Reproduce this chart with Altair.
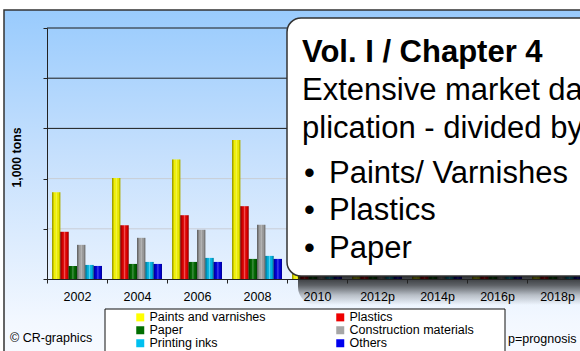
import altair as alt
import pandas as pd

years = ["2002", "2004", "2006", "2008", "2010", "2012p", "2014p", "2016p", "2018p"]
series = ["Paints and varnishes", "Plastics", "Paper", "Construction materials", "Printing inks", "Others"]
colors = ["#ffff00", "#ee0000", "#006e00", "#a6a6a6", "#00c0f0", "#0000ee"]

paints = [865, 1005, 1190, 1385, 1400, 1560, 1700, 1840, 1990]
plastics = [470, 535, 635, 725, 740, 820, 900, 980, 1060]
paper = [130, 150, 170, 200, 200, 220, 240, 255, 270]
construction = [340, 410, 490, 540, 550, 600, 650, 700, 750]
inks = [140, 170, 210, 230, 235, 255, 275, 295, 315]
others = [130, 150, 170, 200, 205, 225, 245, 265, 285]
grid_values = [500, 1000, 1500, 2000, 2500]

callout_title = "Vol. I / Chapter 4"
callout_lines = ["Extensive market data on ap-", "plication - divided by segments:"]
callout_bullets = ["Paints/ Varnishes", "Plastics", "Paper"]
FONT = "Liberation Sans"

rows = []
for s, vals in zip(series, [paints, plastics, paper, construction, inks, others]):
    for y, v in zip(years, vals):
        rows.append({"year": y, "series": s, "value": v})
df = pd.DataFrame(rows)
one = pd.DataFrame({"a": [0]})

x_enc = alt.X("year:N", sort=years,
              scale=alt.Scale(range=[0, 540], paddingInner=0, paddingOuter=0),
              axis=alt.Axis(title=None, tickBand="extent", labelFont=FONT, labelFontSize=12.5,
                            labelColor="black", labelAngle=0, tickColor="#222", tickSize=4,
                            domainColor="#222", labelPadding=7, zindex=1))
xo_enc = alt.XOffset("series:N", sort=series, scale=alt.Scale(paddingOuter=0.6, paddingInner=0))
y_enc = alt.Y("value:Q", scale=alt.Scale(domain=[0, 2500], nice=False),
              axis=alt.Axis(title="1,000 tons", values=grid_values + [0], labels=False, grid=False,
                            titleFont=FONT, titleFontSize=12.3, titleFontWeight="bold",
                            titleColor="black", titleX=-31, titleY=129, titleBaseline="middle",
                            titleAlign="center", titleAngle=270,
                            tickColor="#222", tickSize=4, domainColor="#222", zindex=1))

frame = alt.Chart(one).mark_rect(
    fill=alt.Gradient(gradient="linear", x1=0, x2=0, y1=0, y2=1,
                      stops=[alt.GradientStop(offset=0, color="#99cbfd"),
                             alt.GradientStop(offset=0.35, color="#c6e0fd"),
                             alt.GradientStop(offset=0.75, color="#f3f8ff"),
                             alt.GradientStop(offset=1, color="#ffffff")]),
    stroke="#333", strokeWidth=1.5
).encode(x=alt.value(-43), x2=alt.value(640), y=alt.value(-18), y2=alt.value(400))

legend_box = alt.Chart(one).mark_rect(fill="white", stroke="#111", strokeWidth=1).encode(
    x=alt.value(58), x2=alt.value(458), y=alt.value(281), y2=alt.value(400))

grid = alt.Chart(pd.DataFrame({"g": grid_values})).mark_rule(strokeWidth=1).encode(
    y=alt.Y("g:Q"), x=alt.value(0), x2=alt.value(540),
    color=alt.condition("datum.g >= 1500", alt.value("#1a1a1a"), alt.value("#c9ced6")))

bars = alt.Chart(df).mark_bar().encode(
    x=x_enc, xOffset=xo_enc, y=y_enc,
    color=alt.Color("series:N", sort=series, scale=alt.Scale(domain=series, range=colors),
                    legend=alt.Legend(title=None, orient="none", legendX=87, legendY=283,
                                      direction="horizontal", columns=2, symbolType="square",
                                      symbolSize=64, symbolStrokeWidth=0, labelFont=FONT,
                                      labelFontSize=12.5, labelColor="black", labelOffset=3,
                                      rowPadding=0, columnPadding=68, padding=0, symbolOpacity=1)))

shade = alt.Chart(df).mark_bar(
    fill=alt.Gradient(gradient="linear", x1=0, x2=1, y1=0, y2=0,
                      stops=[alt.GradientStop(offset=0, color="rgba(0,0,0,0.45)"),
                             alt.GradientStop(offset=0.3, color="rgba(0,0,0,0.05)"),
                             alt.GradientStop(offset=0.5, color="rgba(255,255,255,0.3)"),
                             alt.GradientStop(offset=0.75, color="rgba(0,0,0,0.05)"),
                             alt.GradientStop(offset=1, color="rgba(0,0,0,0.4)")])
).encode(x=alt.X("year:N", sort=years), xOffset=alt.XOffset("series:N", sort=series),
         y=alt.Y("value:Q"))

shadow = alt.Chart(one).mark_rect(
    cornerRadius=18,
    fill=alt.Gradient(gradient="linear", x1=0, x2=0, y1=0, y2=1,
                      stops=[alt.GradientStop(offset=0, color="rgba(0,0,0,0.85)"),
                             alt.GradientStop(offset=0.44, color="rgba(0,0,0,0.8)"),
                             alt.GradientStop(offset=0.62, color="rgba(0,0,0,0.6)"),
                             alt.GradientStop(offset=0.81, color="rgba(0,0,0,0.22)"),
                             alt.GradientStop(offset=1, color="rgba(0,0,0,0)")])
).encode(x=alt.value(251), x2=alt.value(640), y=alt.value(225), y2=alt.value(277))

callout = alt.Chart(one).mark_rect(cornerRadius=14, fill="white", stroke="#333", strokeWidth=1.5).encode(
    x=alt.value(240), x2=alt.value(640), y=alt.value(-10), y2=alt.value(248))

def txt(t, x, y, size=31, weight="normal"):
    return alt.Chart(one).mark_text(text=t, align="left", baseline="alphabetic", font=FONT,
                                    fontSize=size, fontWeight=weight, color="black").encode(
        x=alt.value(x), y=alt.value(y))

texts = [txt(callout_title, 255, 34, weight="bold"),
         txt(callout_lines[0], 255, 72),
         txt(callout_lines[1], 255, 110)]
for i, b in enumerate(callout_bullets):
    yy = [155, 192, 230][i]
    texts.append(txt("\u2022", 257, yy))
    texts.append(txt(b, 282, yy))
texts.append(txt("\u00a9 CR-graphics", -37, 314, size=12.5))
texts.append(txt("p=prognosis", 461, 315, size=12.5))

chart = alt.layer(frame, legend_box, grid, bars, shade, shadow, callout, *texts).properties(
    width=533, height=251,
    autosize=alt.AutoSizeParams(type="none"),
    padding={"left": 47, "top": 28, "right": 0, "bottom": 72},
    background="white"
).configure_view(strokeWidth=0)

chart.save("out.html", embed_options={"renderer": "svg", "actions": False})
